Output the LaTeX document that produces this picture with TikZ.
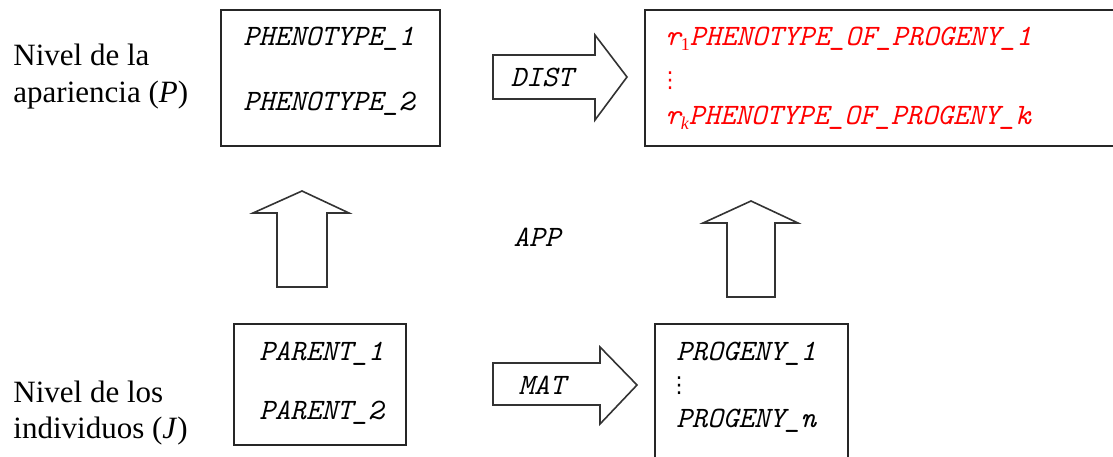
\documentclass[tikz,border=0pt]{standalone}
\usepackage{fontspec}
\setmainfont{Liberation Serif}
\newfontfamily\dejavu{DejaVu Sans}
\begin{document}
\begin{tikzpicture}[x=0.5pt,y=-0.5pt,
  box/.style={draw=black!85, line width=1pt, inner sep=0pt, rectangle},
  blockarrow/.style={draw=black!80, line width=0.8pt, fill=white, line join=miter},
  mono/.style={font=\fontsize{14.8}{17}\selectfont\ttfamily\itshape, inner sep=0pt},
  lbl/.style={font=\fontsize{15.5}{18.5}\selectfont, inner sep=0pt, anchor=base west},
  dotsnode/.style={inner sep=0pt, font=\fontsize{11}{11}\selectfont\dejavu}]
\useasboundingbox (0,0) rectangle (1113,456);

% boxes
\node[box, minimum width=109.5pt, minimum height=68pt] (pheno) at (330.5,78) {};
\node[box, minimum width=240pt, minimum height=68pt] (dist) at (885,78) {};
\node[box, minimum width=86pt, minimum height=60.5pt] (parent) at (320,384.5) {};
\node[box, minimum width=96.5pt, minimum height=73pt] (prog) at (751.5,397) {};

% level labels
\node[lbl] (l1) at (13,65) {Nivel de la};
\node[lbl] (l2) at (13,102) {apariencia (\textit{P})};
\node[lbl] (l3) at (13,402) {Nivel de los};
\node[lbl] (l4) at (13,438) {individuos (\textit{J})};

% box contents
\node[mono, anchor=base west] (p1) at (243,45) {PHENOTYPE\_1};
\node[mono, anchor=base west] (p2) at (243,110) {PHENOTYPE\_2};

\node[mono, red, anchor=base west] (r1) at (665,45) {r\raisebox{-0.45ex}{\fontsize{9}{9}\selectfont\rmfamily\upshape 1}PHENOTYPE\_OF\_PROGENY\_1};
\node[dotsnode, red] (rd) at (670,81) {⋮};
\node[mono, red, anchor=base west] (rk) at (665,124) {r\raisebox{-0.45ex}{\fontsize{9}{9}\selectfont\rmfamily k}PHENOTYPE\_OF\_PROGENY\_k};

\node[mono, anchor=base west] (pa1) at (259,360) {PARENT\_1};
\node[mono, anchor=base west] (pa2) at (259,419) {PARENT\_2};

\node[mono, anchor=base west] (pr1) at (676,360) {PROGENY\_1};
\node[dotsnode] (prd) at (679,386) {⋮};
\node[mono, anchor=base west] (prn) at (676,427) {PROGENY\_n};

% block arrows
\draw[blockarrow] (493,55) -- (595,55) -- (595,35) -- (627,77) -- (595,120) -- (595,99) -- (493,99) -- cycle;
\node[mono] (distlbl) at (542,77) {DIST};

\draw[blockarrow] (493,363) -- (600,363) -- (600,347) -- (637,385) -- (600,424) -- (600,405) -- (493,405) -- cycle;
\node[mono] (matlbl) at (542,385) {MAT};

\draw[blockarrow] (277,287) -- (277,213) -- (253,213) -- (302,191) -- (349,213) -- (327,213) -- (327,287) -- cycle;
\draw[blockarrow] (727,297) -- (727,223) -- (703,223) -- (751,201) -- (798,223) -- (775,223) -- (775,297) -- cycle;

\node[mono] (app) at (537,237) {APP};
\end{tikzpicture}
\end{document}
